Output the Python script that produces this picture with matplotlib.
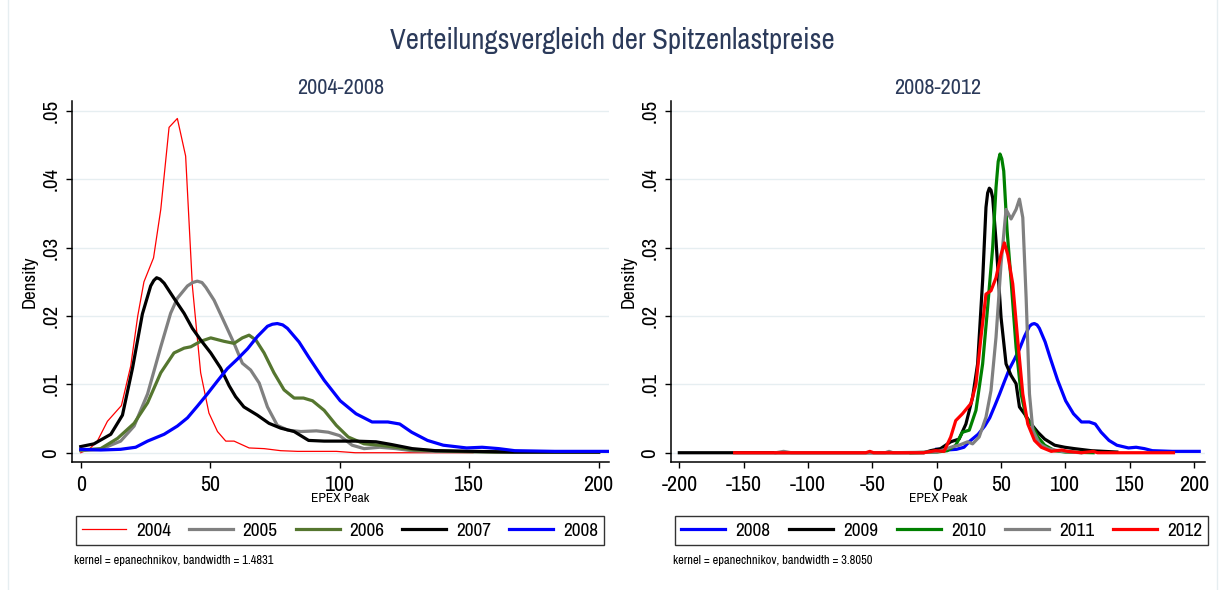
import os
import matplotlib
matplotlib.use("Agg")
import matplotlib.pyplot as plt
from matplotlib import font_manager
from matplotlib.font_manager import FontProperties
from matplotlib.textpath import TextPath
from matplotlib.patches import Rectangle

# ---------------- data ----------------
x_2004 = [0, 3.5, 6.4, 10.3, 15.7, 19.3, 22.0, 24.4, 28.1, 30.9, 34.1, 37.3, 40.5, 43.1, 46.3,
          49.5, 52.8, 56.0, 59.2, 65.0, 70.8, 77.2, 83.7, 98.7, 106, 151.5]
y_2004 = [0.0000, 0.0006, 0.0017, 0.0046, 0.0069, 0.0127, 0.0200, 0.0250, 0.0285, 0.0356, 0.0476,
          0.0489, 0.0434, 0.0244, 0.0117, 0.0058, 0.0031, 0.0017, 0.0017, 0.0007, 0.0006, 0.0003,
          0.0002, 0.0002, 0.0000, 0.0000]

x_2005 = [0, 7.7, 15.4, 20.6, 25.8, 30.9, 34.7, 37.3, 41.2, 43.2, 45.0, 46.8, 48.3, 51.5, 55.3,
          59.2, 62.4, 65.6, 68.9, 72.1, 75.9, 80, 85, 91, 95.6, 100, 104.8, 109.4, 115.5, 121.7,
          127.8, 137, 160, 200]
y_2005 = [0.0003, 0.0005, 0.0017, 0.0039, 0.0086, 0.0155, 0.0204, 0.0226, 0.0244, 0.0249, 0.0251,
          0.0249, 0.0242, 0.0223, 0.0192, 0.0160, 0.0131, 0.0121, 0.0102, 0.0067, 0.0040, 0.0033,
          0.0031, 0.0032, 0.0030, 0.0025, 0.0011, 0.0006, 0.0008, 0.0006, 0.0003, 0.0002, 0.0001,
          0.0001]

x_2006 = [0, 7.7, 14.2, 20.6, 25.8, 30.9, 36.0, 39.9, 42.5, 46.3, 50.2, 55.3, 59.2, 62.4, 65.0,
          67.6, 70.8, 74.6, 78.5, 82.4, 86, 89.5, 94, 98.7, 103.3, 109.4, 115.5, 121.7, 129,
          144.6, 160, 200]
y_2006 = [0.0004, 0.0006, 0.0021, 0.0043, 0.0073, 0.0117, 0.0146, 0.0153, 0.0155, 0.0163, 0.0168,
          0.0163, 0.0160, 0.0168, 0.0172, 0.0165, 0.0146, 0.0117, 0.0092, 0.0080, 0.0080, 0.0076,
          0.0062, 0.0040, 0.0023, 0.0013, 0.0011, 0.0008, 0.0004, 0.0002, 0.0001, 0.0001]

x_2007 = [0, 5.1, 11.6, 16.1, 20.0, 23.8, 27.0, 28.2, 29.3, 30.6, 32.2, 36.0, 39.9, 43.1, 46.3,
          50.2, 54.0, 57.3, 59.8, 63.0, 68.2, 72.7, 77.2, 82.4, 88, 94, 106, 114, 120, 128, 137,
          152, 167, 200]
y_2007 = [0.0009, 0.0013, 0.0027, 0.0055, 0.0124, 0.0203, 0.0244, 0.0252, 0.0256, 0.0254, 0.0248,
          0.0226, 0.0204, 0.0182, 0.0165, 0.0146, 0.0124, 0.0098, 0.0082, 0.0067, 0.0055, 0.0043,
          0.0036, 0.0031, 0.0018, 0.0017, 0.0017, 0.0016, 0.0012, 0.0006, 0.0003, 0.0002, 0.0001,
          0.0001]

x_2008 = [0, 7.7, 15.4, 21.2, 25.8, 32.2, 37.3, 41.2, 45.0, 48.9, 52.8, 56.6, 60.5, 64.4, 68.2,
          72.1, 74.0, 75.9, 78.0, 79.8, 84.3, 88, 94, 100.2, 106.3, 112.5, 118.6, 123.2, 127.8,
          133.9, 140, 149, 155, 161.4, 167.6, 183, 204]
y_2008 = [0.0005, 0.0004, 0.0005, 0.0008, 0.0017, 0.0027, 0.0039, 0.0051, 0.0068, 0.0086, 0.0105,
          0.0123, 0.0137, 0.0152, 0.0170, 0.0185, 0.0188, 0.0189, 0.0187, 0.0182, 0.0162, 0.0140,
          0.0106, 0.0076, 0.0057, 0.0045, 0.0045, 0.0042, 0.0030, 0.0018, 0.0011, 0.0007, 0.0008,
          0.0006, 0.0003, 0.0002, 0.0002]

x_2009 = [-200, -100, -10, -4.7, 3, 10.9, 17.4, 22.7, 27.9, 31.8, 35.7, 38.3, 39.6, 40.9, 42.2,
          43.5, 46.1, 50.0, 53.9, 57.8, 61.7, 64.3, 68.2, 73.4, 78.6, 83.9, 91.7, 99.5, 107, 120,
          140]
y_2009 = [0.0, 0.0, 0.0, 0.0003, 0.0006, 0.0016, 0.0020, 0.0042, 0.0081, 0.0130, 0.0252, 0.0359,
          0.0380, 0.0387, 0.0384, 0.0373, 0.0310, 0.0198, 0.0130, 0.0113, 0.0101, 0.0067, 0.0057,
          0.0042, 0.0030, 0.0020, 0.0011, 0.0008, 0.0006, 0.0003, 0.0001]

x_2010 = [-20, 0, 8.3, 14.8, 20.0, 25.3, 30.5, 35.7, 39.6, 43.5, 46.1, 47.8, 49.2, 50.6, 52.1,
          54.7, 57.8, 61.7, 65.6, 69.5, 73.4, 78.6, 83.9, 91.7, 100, 121.6]
y_2010 = [0.0, 0.0001, 0.0003, 0.0011, 0.0030, 0.0033, 0.0062, 0.0130, 0.0213, 0.0300, 0.0388,
          0.0426, 0.0437, 0.0430, 0.0412, 0.0325, 0.0252, 0.0154, 0.0086, 0.0052, 0.0042, 0.0023,
          0.0011, 0.0003, 0.0001, 0.0]

x_2011 = [-125, -119, -113, -40, -37, -34, 0, 10.9, 17.4, 24.0, 27.9, 33.0, 38.3, 42.2, 46.1,
          50.0, 53.9, 57.8, 61.7, 64.3, 66.9, 69.5, 72.1, 74.7, 79.9, 86.5, 97, 112]
y_2011 = [0.0, 0.0002, 0.0, 0.0, 0.0002, 0.0, 0.0001, 0.0008, 0.0011, 0.0016, 0.0013, 0.0023,
          0.0052, 0.0091, 0.0169, 0.0276, 0.0356, 0.0342, 0.0356, 0.0371, 0.0344, 0.0227, 0.0086,
          0.0033, 0.0013, 0.0006, 0.0002, 0.0]

x_2012 = [-157, -55, -52, -49, -10, -7.3, -0.8, 5.7, 10.9, 14.8, 20.0, 26.6, 30.5, 34.4, 38.3,
          42.2, 46.1, 50.0, 52.6, 55.2, 59.1, 63.0, 66.9, 70.8, 76.0, 81.3, 89, 97, 102, 112.5,
          121.6, 125, 184]
y_2012 = [0.0, 0.0, 0.0002, 0.0, 0.0, 0.0001, 0.0003, 0.0002, 0.0023, 0.0047, 0.0057, 0.0072,
          0.0100, 0.0169, 0.0232, 0.0237, 0.0256, 0.0290, 0.0307, 0.0290, 0.0247, 0.0164, 0.0086,
          0.0042, 0.0018, 0.0008, 0.0002, 0.0004, 0.0002, 0.0, 0.0002, 0.0, 0.0]

left_years = ["2004", "2005", "2006", "2007", "2008"]
right_years = ["2008", "2009", "2010", "2011", "2012"]
left_xticks = [0, 50, 100, 150, 200]
right_xticks = [-200, -150, -100, -50, 0, 50, 100, 150, 200]
yticks = [0, 0.01, 0.02, 0.03, 0.04, 0.05]
ytick_labels = ["0", ".01", ".02", ".03", ".04", ".05"]

main_title = "Verteilungsvergleich der Spitzenlastpreise"
left_title = "2004-2008"
right_title = "2008-2012"
xlabel = "EPEX Peak"
ylabel = "Density"
left_note = "kernel = epanechnikov, bandwidth = 1.4831"
right_note = "kernel = epanechnikov, bandwidth = 3.8050"

# ---------------- fonts: pick a narrow sans if available ----------------
def ink_width(fp, s):
    return TextPath((0, 0), s, size=100, prop=fp).get_extents().width / 100.0

def pick_font():
    cands = []
    for n in ["Liberation Sans Narrow", "Arial Narrow", "Roboto Condensed",
              "Open Sans Condensed", "Noto Sans Condensed"]:
        try:
            p = font_manager.findfont(FontProperties(family=n), fallback_to_default=False)
            cands.append(p)
        except Exception:
            pass
    bad = ("bold", "italic", "light", "thin", "medium", "black", "semibold", "extra",
           "ultra", "oblique", "mono", "serif", "heavy")
    for f in font_manager.fontManager.ttflist:
        fn = os.path.basename(f.fname).lower()
        if ("condensed" in fn or "narrow" in fn) and not any(b in fn.replace("sans", "") for b in bad):
            if "serif" in fn or "mono" in fn:
                continue
            cands.append(f.fname)
    reg = font_manager.findfont(FontProperties(family="Liberation Sans"))
    cands.append(reg)
    target = 7.38  # em width of "Verteilungsvergleich" in an Arial-Narrow-like face
    best, bestd = reg, 1e9
    for p in dict.fromkeys(cands):
        try:
            w = ink_width(FontProperties(fname=p), "Verteilungsvergleich")
        except Exception:
            continue
        d = abs(w - target)
        if d < bestd:
            best, bestd = p, d
    return best

FONT_PATH = pick_font()

def fp_fit(text, target_px):
    base = FontProperties(fname=FONT_PATH)
    w = ink_width(base, text)
    size = target_px * 72.0 / 100.0 / w
    return FontProperties(fname=FONT_PATH, size=size)

FP_TITLE = fp_fit(main_title, 443)
FP_SUB = fp_fit(left_title, 85)
FP_XTICK = fp_fit("-200", 35)
FP_YTICK = fp_fit(".05", 22)
FP_YLAB = fp_fit(ylabel, 51)
FP_XLAB = fp_fit(xlabel, 57)
FP_LEG = fp_fit("2004", 34)
FP_NOTE = fp_fit(left_note, 198)

TITLE_COL = "#2B3A5A"
GRID_COL = "#E6EEF1"

W, H = 1225, 590
fig = plt.figure(figsize=(W / 100, H / 100), dpi=100)
fig.patch.set_facecolor("white")

fig.add_artist(Rectangle((8 / W, -0.01), (1217 - 8) / W, 1.02, transform=fig.transFigure,
                         fill=False, edgecolor=GRID_COL, lw=1.0))

def px_box(l, r, t, b):
    return [l / W, (H - b) / H, (r - l) / W, (b - t) / H]

axL = fig.add_axes(px_box(71.7, 609, 100.7, 462.3))
axR = fig.add_axes(px_box(670.7, 1205, 100.7, 462.3))

left_series = [
    (x_2004, y_2004, "#FF0000", 0.9),
    (x_2005, y_2005, "#808080", 2.3),
    (x_2006, y_2006, "#55762F", 2.3),
    (x_2007, y_2007, "#000000", 2.3),
    (x_2008, y_2008, "#0000FF", 2.3),
]
right_series = [
    (x_2008, y_2008, "#0000FF", 2.3),
    (x_2009, y_2009, "#000000", 2.3),
    (x_2010, y_2010, "#008000", 2.3),
    (x_2011, y_2011, "#808080", 2.3),
    (x_2012, y_2012, "#FF0000", 2.3),
]

def style_axis(ax, xticks, xlim, title):
    ax.set_xlim(*xlim)
    ax.set_ylim(-0.0014, 0.0515)
    ax.set_xticks(xticks)
    ax.set_xticklabels([str(t) for t in xticks], fontproperties=FP_XTICK)
    ax.set_yticks(yticks)
    ax.set_yticklabels(ytick_labels, rotation=90, va="center", fontproperties=FP_YTICK)
    ax.tick_params(axis="both", direction="out", length=4, width=1, color="black")
    ax.tick_params(axis="x", pad=5)
    ax.tick_params(axis="y", pad=4)
    for s in ("top", "right"):
        ax.spines[s].set_visible(False)
    for s in ("left", "bottom"):
        ax.spines[s].set_linewidth(1.1)
    ax.grid(axis="y", color=GRID_COL, lw=1.0)
    ax.set_axisbelow(True)
    ax.set_title(title, fontproperties=FP_SUB, color=TITLE_COL, pad=5)
    ax.set_xlabel(xlabel, fontproperties=FP_XLAB, labelpad=-1.5)
    ax.set_ylabel(ylabel, fontproperties=FP_YLAB, labelpad=3)

def draw(ax, series, labels):
    handles = []
    for (xs, ys, c, lw), lab in zip(series, labels):
        h, = ax.plot(xs, ys, color=c, lw=lw, label=lab, solid_joinstyle="round")
        handles.append(h)
    return handles

hL = draw(axL, left_series, left_years)
hR = draw(axR, right_series, right_years)
style_axis(axL, left_xticks, (-3.5, 204), left_title)
style_axis(axR, right_xticks, (-206.7, 208.5), right_title)

LEG_EM = FP_LEG.get_size_in_points() * 100.0 / 72.0

def legend_at(handles, labels, l, r, t, b):
    bb = px_box(l, r, t, b)
    leg = fig.legend(handles, labels, loc="center", bbox_to_anchor=bb, mode="expand",
                     ncol=5, frameon=True, fancybox=False, borderaxespad=0, prop=FP_LEG,
                     handlelength=44 / LEG_EM, handletextpad=10 / LEG_EM,
                     borderpad=0.3, columnspacing=0.5)
    leg.get_frame().set_edgecolor("black")
    leg.get_frame().set_linewidth(1.0)
    return leg

legend_at(hL, left_years, 76, 604, 514, 547)
legend_at(hR, right_years, 675, 1208, 514, 547)

fig.text(74 / W, (H - 561) / H, left_note, fontproperties=FP_NOTE, va="center", ha="left")
fig.text(673 / W, (H - 561) / H, right_note, fontproperties=FP_NOTE, va="center", ha="left")

fig.text(612 / W, (H - 40) / H, main_title, fontproperties=FP_TITLE, color=TITLE_COL,
         ha="center", va="center")

fig.savefig("out.png", dpi=100, facecolor="white")
